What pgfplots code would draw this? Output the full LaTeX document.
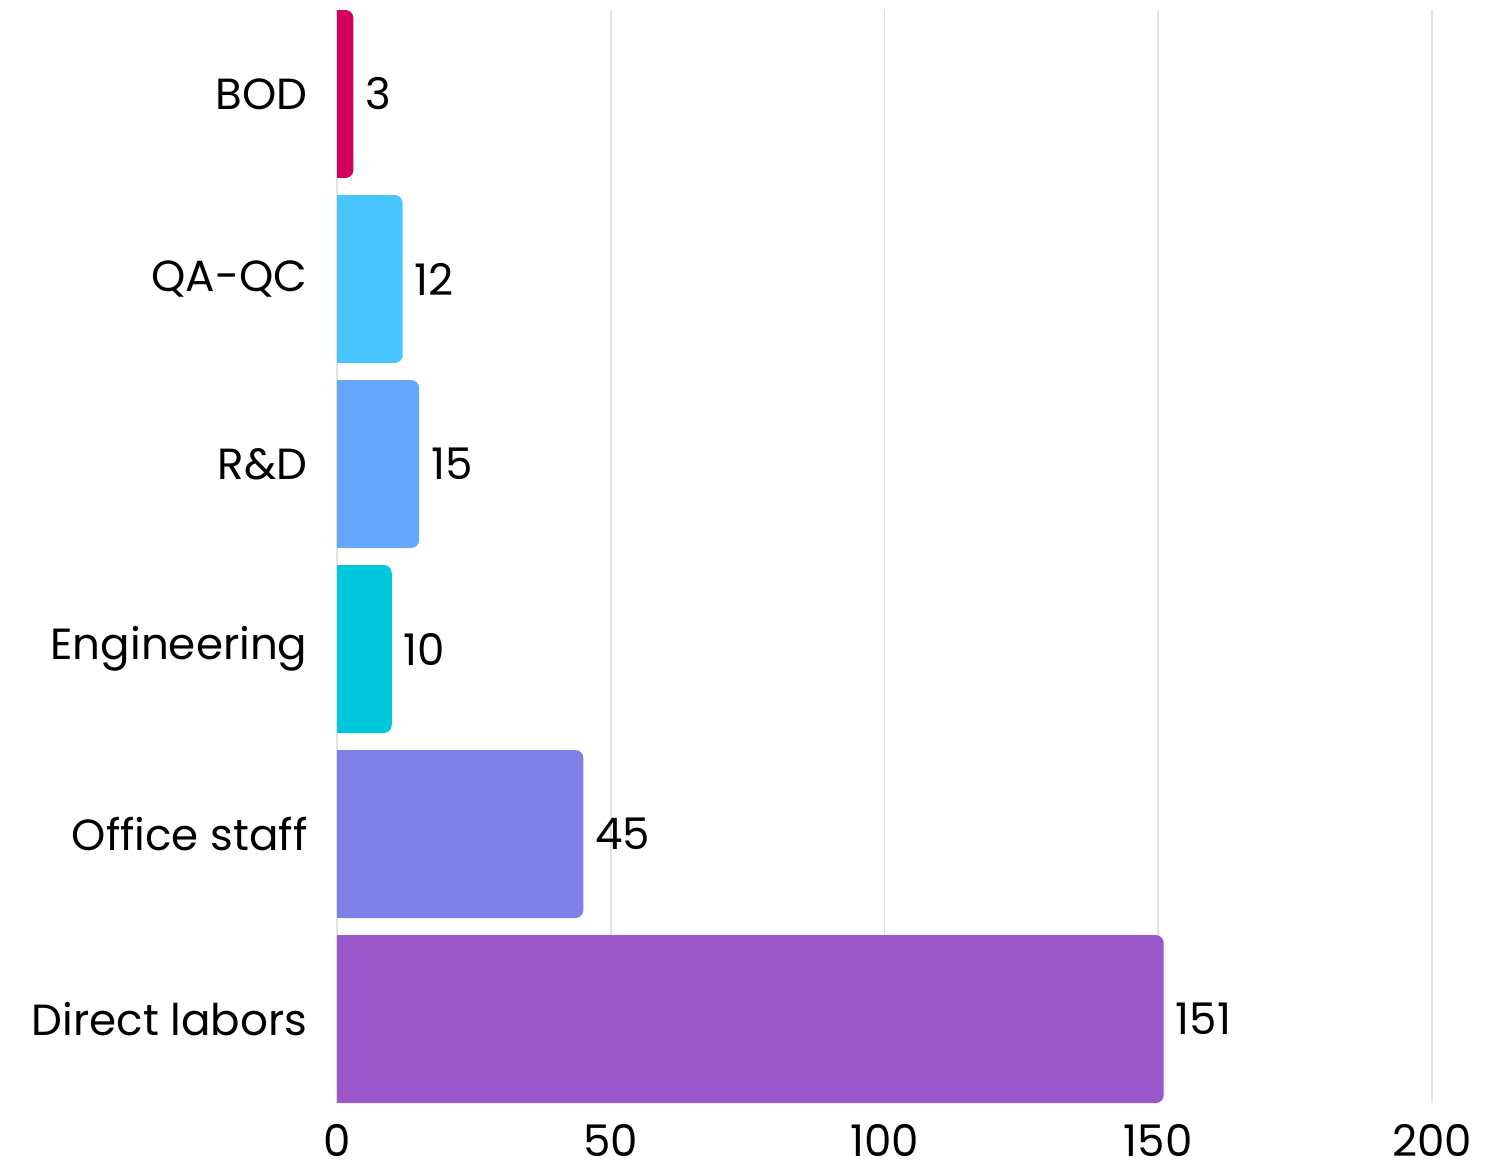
\documentclass[border=0pt]{standalone}
\usepackage{pgfplots}
\pgfplotsset{compat=1.18}
\usepackage{fontspec}
\setmainfont{Poppins}
\definecolor{cBOD}{HTML}{D0005C}
\definecolor{cQA}{HTML}{48C5FF}
\definecolor{cRD}{HTML}{66A6FB}
\definecolor{cEng}{HTML}{00C8DC}
\definecolor{cOff}{HTML}{7F80E6}
\definecolor{cDir}{HTML}{9A58CB}
\definecolor{gridc}{HTML}{E2E2E2}
\begin{document}
\begin{tikzpicture}[font=\fontsize{10.9}{12}\selectfont]
\begin{axis}[
  at={(0,0)}, anchor=south west,
  width=273.75pt, height=273.25pt, scale only axis,
  xmin=0, xmax=200, ymin=-0.454, ymax=5.454,
  xbar, bar width=42pt, bar shift=0pt,
  axis line style={draw=none},
  xtick={0,50,100,150,200},
  ytick={0,1,2,3,4,5},
  yticklabels={Direct labors, Office staff, Engineering, R\&D, QA-QC, BOD},
  major tick length=0pt,
  xmajorgrids, grid style={gridc, line width=0.4pt},
  /pgf/number format/assume math mode=true,
  xticklabel style={inner sep=0pt, anchor=north, yshift=-5.2pt},
  yticklabel style={inner sep=0pt, anchor=east, xshift=-7.2pt},
  nodes near coords style={font=\fontsize{10.9}{12}\selectfont, anchor=west, inner sep=0pt, xshift=2.8pt, text=black},
]
\addplot[draw=none, fill=cDir, rounded corners=2pt, nodes near coords] coordinates {(151,0)};
\addplot[draw=none, fill=cDir, xshift=-2pt] coordinates {(151,0)};
\addplot[draw=none, fill=cOff, rounded corners=2pt, nodes near coords] coordinates {(45,1)};
\addplot[draw=none, fill=cOff, xshift=-2pt] coordinates {(45,1)};
\addplot[draw=none, fill=cEng, rounded corners=2pt, nodes near coords] coordinates {(10,2)};
\addplot[draw=none, fill=cEng, xshift=-2pt] coordinates {(10,2)};
\addplot[draw=none, fill=cRD, rounded corners=2pt, nodes near coords] coordinates {(15,3)};
\addplot[draw=none, fill=cRD, xshift=-2pt] coordinates {(15,3)};
\addplot[draw=none, fill=cQA, rounded corners=2pt, nodes near coords] coordinates {(12,4)};
\addplot[draw=none, fill=cQA, xshift=-2pt] coordinates {(12,4)};
\addplot[draw=none, fill=cBOD, rounded corners=2pt, nodes near coords] coordinates {(3,5)};
\addplot[draw=none, fill=cBOD, xshift=-2pt] coordinates {(3,5)};
\end{axis}
\path (-84.25pt,-17pt) rectangle (287pt,275.75pt);
\end{tikzpicture}
\end{document}
